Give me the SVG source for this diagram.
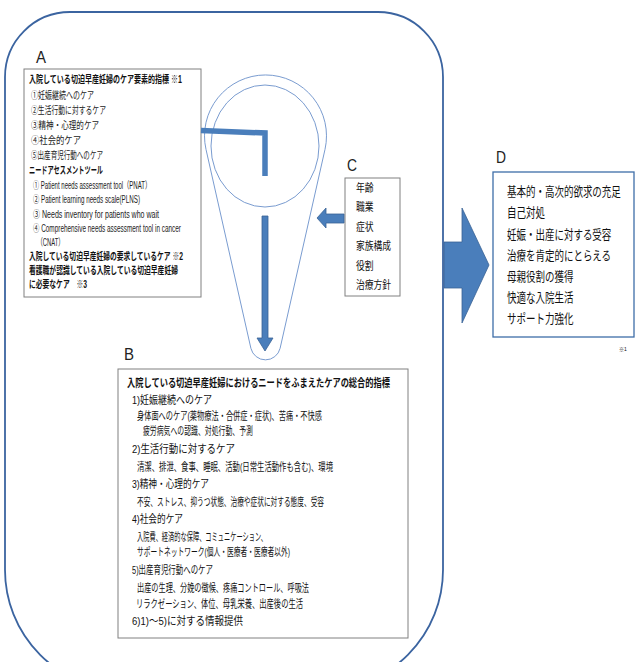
<svg xmlns="http://www.w3.org/2000/svg" width="635" height="662" viewBox="0 0 635 662">
<style>
text{font-family:"Liberation Sans","Noto Sans CJK JP",sans-serif;fill:#111;}
.lab{font-size:16px;fill:#222;}
.a{font-size:10px;fill:#222;}
.ab{font-size:10px;font-weight:bold;}
.c{font-size:11px;}
.d{font-size:13px;}
.b{font-size:11px;}
.bb{font-size:11px;font-weight:bold;}
.box{fill:#fff;stroke:#808080;stroke-width:1;}
.arrow{fill:#4A7EBB;stroke:#3A6396;stroke-width:0.8;}
.thin{fill:none;stroke:#7A9CD0;stroke-width:1;}
</style>
<rect width="635" height="662" fill="#fff"/>
<g id="frame">
<path d="M 70,12 H 378 A 65 65 0 0 1 443,77 V 570 A 120 120 0 0 1 323,690 H 125 A 120 120 0 0 1 5,570 V 77 A 65 65 0 0 1 70,12 Z" fill="none" stroke="#3B64A0" stroke-width="1.8"/>
</g>
<g id="lens">
<path class="thin" d="M 206,149.4 A 61 61 0 1 1 325,149.4 L 280.1,348.3 A 15 15 0 0 1 250.9,348.3 Z"/>
<ellipse class="thin" cx="265" cy="146" rx="54" ry="61"/>
</g>
<g id="A">
<text class="lab" x="36" y="63" textLength="10" lengthAdjust="spacingAndGlyphs">A</text>
<rect class="box" x="24" y="69" width="177" height="228"/>
<text class="ab" x="29" y="82.5" textLength="153" lengthAdjust="spacingAndGlyphs">入院している切迫早産妊婦のケア要素的指標 ※1</text>
<text class="a" x="31" y="98.5" textLength="63" lengthAdjust="spacingAndGlyphs">①妊娠継続へのケア</text>
<text class="a" x="31" y="113.5" textLength="75" lengthAdjust="spacingAndGlyphs">②生活行動に対するケア</text>
<text class="a" x="31" y="128.5" textLength="68" lengthAdjust="spacingAndGlyphs">③精神・心理的ケア</text>
<text class="a" x="31" y="143.5" textLength="50" lengthAdjust="spacingAndGlyphs">④社会的ケア</text>
<text class="a" x="31" y="158.5" textLength="72" lengthAdjust="spacingAndGlyphs">⑤出産育児行動へのケア</text>
<text class="ab" x="29" y="173.5" textLength="74" lengthAdjust="spacingAndGlyphs">ニードアセスメントツール</text>
<text class="a" x="33" y="188.5" textLength="118" lengthAdjust="spacingAndGlyphs">① Patient needs assessment tool（PNAT）</text>
<text class="a" x="33" y="202.5" textLength="107" lengthAdjust="spacingAndGlyphs">② Patient learning needs scale(PLNS)</text>
<text class="a" x="33" y="217.5" textLength="126" lengthAdjust="spacingAndGlyphs">③ Needs inventory for patients who wait</text>
<text class="a" x="33" y="231.5" textLength="148" lengthAdjust="spacingAndGlyphs">④ Comprehensive needs assessment tool in cancer</text>
<text class="a" x="37" y="245.5" textLength="27" lengthAdjust="spacingAndGlyphs">（CNAT）</text>
<text class="ab" x="29" y="259.5" textLength="154" lengthAdjust="spacingAndGlyphs">入院している切迫早産妊婦の要求しているケア ※2</text>
<text class="ab" x="29" y="273.5" textLength="149" lengthAdjust="spacingAndGlyphs">看護職が認識している入院している切迫早産妊婦</text>
<text class="ab" x="29" y="287.5" textLength="58" lengthAdjust="spacingAndGlyphs">に必要なケア　※3</text>
</g>
<g id="C">
<text class="lab" x="347" y="171" textLength="10" lengthAdjust="spacingAndGlyphs">C</text>
<rect class="box" x="345" y="178" width="55" height="118"/>
<text class="c" x="356" y="192" textLength="17.6" lengthAdjust="spacingAndGlyphs">年齢</text>
<text class="c" x="356" y="211" textLength="17.6" lengthAdjust="spacingAndGlyphs">職業</text>
<text class="c" x="356" y="231" textLength="17.6" lengthAdjust="spacingAndGlyphs">症状</text>
<text class="c" x="356" y="250" textLength="35" lengthAdjust="spacingAndGlyphs">家族構成</text>
<text class="c" x="356" y="270" textLength="17.6" lengthAdjust="spacingAndGlyphs">役割</text>
<text class="c" x="356" y="289" textLength="35" lengthAdjust="spacingAndGlyphs">治療方針</text>
</g>
<g id="D">
<text class="lab" x="496" y="163" textLength="10" lengthAdjust="spacingAndGlyphs">D</text>
<rect x="493" y="172" width="141" height="165" fill="#fff" stroke="#3E6EA8" stroke-width="1.3"/>
<g transform="translate(507,0) scale(0.73,1)">
<text class="d" x="0" y="196.5">基本的・高次的欲求の充足</text>
<text class="d" x="0" y="217.5">自己対処</text>
<text class="d" x="0" y="239">妊娠・出産に対する受容</text>
<text class="d" x="0" y="260">治療を肯定的にとらえる</text>
<text class="d" x="0" y="281">母親役割の獲得</text>
<text class="d" x="0" y="302">快適な入院生活</text>
<text class="d" x="0" y="323.5">サポート力強化</text>
</g>
<text x="619" y="351" style="font-size:5px">※1</text>
</g>
<g id="B">
<text class="lab" x="124" y="360" textLength="10" lengthAdjust="spacingAndGlyphs">B</text>
<rect class="box" x="118" y="369" width="290" height="269"/>
<text class="bb" x="127" y="387" textLength="263" lengthAdjust="spacingAndGlyphs">入院している切迫早産妊婦におけるニードをふまえたケアの総合的指標</text>
<text class="b" x="132" y="404" textLength="80" lengthAdjust="spacingAndGlyphs">1)妊娠継続へのケア</text>
<text class="b" x="137" y="420" textLength="185" lengthAdjust="spacingAndGlyphs">身体面へのケア(薬物療法・合併症・症状)、苦痛・不快感</text>
<text class="b" x="143" y="435" textLength="110" lengthAdjust="spacingAndGlyphs">疲労病気への認識、対処行動、予測</text>
<text class="b" x="132" y="453" textLength="103" lengthAdjust="spacingAndGlyphs">2)生活行動に対するケア</text>
<text class="b" x="137" y="471" textLength="196" lengthAdjust="spacingAndGlyphs">清潔、排泄、食事、睡眠、活動(日常生活動作も含む)、環境</text>
<text class="b" x="132" y="488" textLength="77" lengthAdjust="spacingAndGlyphs">3)精神・心理的ケア</text>
<text class="b" x="137" y="506" textLength="187" lengthAdjust="spacingAndGlyphs">不安、ストレス、抑うつ状態、治療や症状に対する態度、受容</text>
<text class="b" x="132" y="523" textLength="51" lengthAdjust="spacingAndGlyphs">4)社会的ケア</text>
<text class="b" x="137" y="541" textLength="130" lengthAdjust="spacingAndGlyphs">入院費、経済的な保障、コミュニケーション、</text>
<text class="b" x="137" y="556" textLength="153" lengthAdjust="spacingAndGlyphs">サポートネットワーク(個人・医療者・医療者以外)</text>
<text class="b" x="132" y="574" textLength="81" lengthAdjust="spacingAndGlyphs">5)出産育児行動へのケア</text>
<text class="b" x="137" y="592" textLength="172" lengthAdjust="spacingAndGlyphs">出産の生理、分娩の徴候、疼痛コントロール、呼吸法</text>
<text class="b" x="136" y="608" textLength="167" lengthAdjust="spacingAndGlyphs">リラクゼーション、体位、母乳栄養、出産後の生活</text>
<text class="b" x="132" y="625" textLength="111" lengthAdjust="spacingAndGlyphs">6)1)～5)に対する情報提供</text>
</g>
<g id="connectors">
<path d="M 201,130.5 L 265,133 L 265,176" fill="none" stroke="#4A7EBB" stroke-width="5.5"/>
<polygon class="arrow" points="262,216 268,216 268,338 273,338 265,351 257,338 262,338"/>
<polygon class="arrow" points="344,214 344,223 326,223 326,228 317,218 326,208 326,214"/>
<polygon class="arrow" points="444,242 462,242 462,208 489,265 462,323 462,288 444,288"/>
</g>
</svg>
